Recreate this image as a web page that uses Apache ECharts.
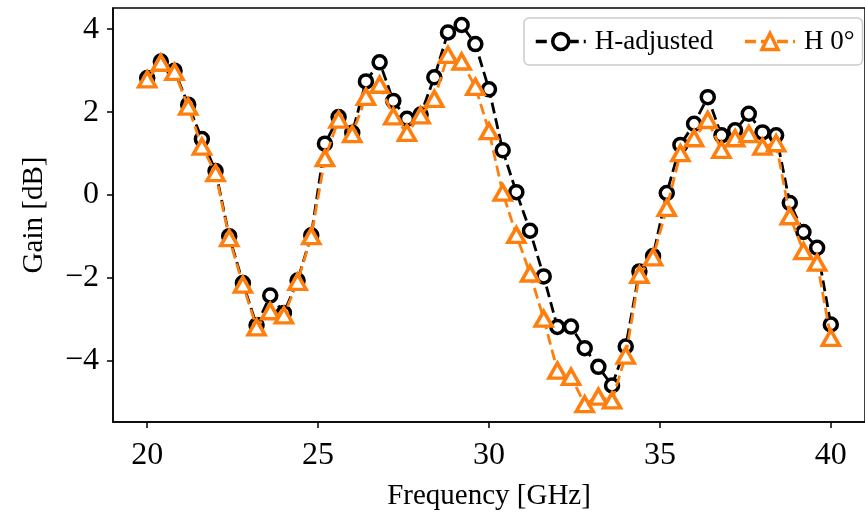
<!DOCTYPE html>
<html>
<head>
<meta charset="utf-8">
<script src="https://cdn.jsdelivr.net/npm/echarts@6/dist/echarts.min.js"></script>
<style>html,body{margin:0;padding:0;background:#fff;}#c{width:865px;height:516px;}</style>
</head>
<body>
<div id="c"></div>
<script>
var freqs = [20.0,20.4,20.8,21.2,21.6,22.0,22.4,22.8,23.2,23.6,24.0,24.4,24.8,25.2,25.6,26.0,26.4,26.8,27.2,27.6,28.0,28.4,28.8,29.2,29.6,30.0,30.4,30.8,31.2,31.6,32.0,32.4,32.8,33.2,33.6,34.0,34.4,34.8,35.2,35.6,36.0,36.4,36.8,37.2,37.6,38.0,38.4,38.8,39.2,39.6,40.0];
var hAdjusted = [2.82,3.22,3.0,2.18,1.35,0.58,-0.99,-2.12,-3.14,-2.42,-2.84,-2.06,-0.97,1.24,1.88,1.5,2.74,3.2,2.27,1.84,1.94,2.84,3.92,4.1,3.64,2.55,1.08,0.07,-0.86,-1.96,-3.18,-3.17,-3.69,-4.14,-4.59,-3.65,-1.84,-1.47,0.05,1.21,1.72,2.36,1.44,1.56,1.96,1.51,1.44,-0.19,-0.89,-1.27,-3.12];
var h0 = [2.79,3.19,2.97,2.13,1.17,0.53,-1.04,-2.16,-3.19,-2.8,-2.9,-2.09,-0.99,0.89,1.82,1.47,2.37,2.66,1.9,1.5,1.92,2.32,3.38,3.22,2.61,1.54,0.06,-0.96,-1.89,-2.98,-4.23,-4.38,-5.04,-4.86,-4.95,-3.87,-1.92,-1.5,-0.31,1.01,1.37,1.81,1.09,1.37,1.47,1.17,1.25,-0.51,-1.35,-1.63,-3.44];
var xTicks = [20,25,30,35,40];
var yTicks = [-4,-2,0,2,4];

var FONT = '"Liberation Serif", "DejaVu Serif", serif';
function pairs(xs, ys){ return xs.map(function(x,i){ return [x, ys[i]]; }); }

var chart = echarts.init(document.getElementById('c'), null, {renderer:'canvas'});
chart.setOption({
  animation: false,
  backgroundColor: '#fff',
  grid: {left: 113, top: 8, right: -10, bottom: 90, show: true, borderColor: '#000', borderWidth: 1.5, backgroundColor: 'transparent'},
  legend: {
    left: 524, top: 18, padding: [10, 8, 10, 10], itemGap: 30, itemWidth: 50, itemHeight: 20,
    borderColor: '#cccccc', borderWidth: 1.5, borderRadius: 5, backgroundColor: 'rgba(255,255,255,0.85)',
    textStyle: {fontFamily: FONT, fontSize: 27, color: '#000', padding: [0,0,0,4]},
    itemStyle: {borderWidth: 3.5},
    lineStyle: {width: 3.5},
    data: ['H-adjusted', 'H 0°']
  },
  xAxis: {
    type: 'value', min: 19, max: 41,
    name: 'Frequency [GHz]', nameLocation: 'middle', nameGap: 60,
    nameTextStyle: {fontFamily: FONT, fontSize: 29, color: '#000'},
    axisLine: {show: true, onZero: false, lineStyle: {color: '#000', width: 1.5}},
    axisTick: {show: true, inside: false, length: 6, lineStyle: {color: '#000', width: 1.5}, customValues: xTicks},
    axisLabel: {fontFamily: FONT, fontSize: 32, color: '#000', margin: 18, customValues: xTicks},
    splitLine: {show: false}
  },
  yAxis: {
    type: 'value', min: -5.47, max: 4.51,
    name: 'Gain [dB]', nameLocation: 'middle', nameGap: 64, nameRotate: 90,
    nameTextStyle: {fontFamily: FONT, fontSize: 29, color: '#000'},
    axisLine: {show: true, onZero: false, lineStyle: {color: '#000', width: 1.5}},
    axisTick: {show: true, inside: false, length: 6, lineStyle: {color: '#000', width: 1.5}, customValues: yTicks},
    axisLabel: {fontFamily: FONT, fontSize: 32, color: '#000', margin: 14, customValues: yTicks,
      formatter: function(v){ return v < 0 ? '\u2212' + Math.abs(v) : String(v); }},
    splitLine: {show: false}
  },
  series: [
    {
      name: 'H-adjusted', type: 'line', data: pairs(freqs, hAdjusted),
      symbol: 'circle', symbolSize: 13, showAllSymbol: true,
      lineStyle: {color: '#000', width: 2.8, type: [11, 5]},
      itemStyle: {color: '#fff', borderColor: '#000', borderWidth: 3.5},
      z: 2
    },
    {
      name: 'H 0°', type: 'line', data: pairs(freqs, h0),
      symbol: 'triangle', symbolSize: [17, 15], showAllSymbol: true,
      lineStyle: {color: '#ff7f0e', width: 2.8, type: [11, 5]},
      itemStyle: {color: '#fff', borderColor: '#ff7f0e', borderWidth: 3.5},
      z: 3
    }
  ]
});
</script>
</body>
</html>
